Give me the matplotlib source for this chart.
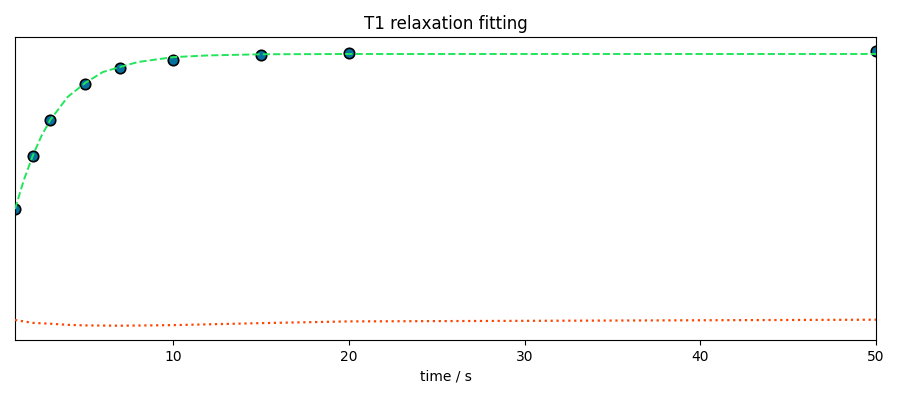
import matplotlib
matplotlib.use("Agg")
import matplotlib.pyplot as plt

t_meas = [1, 2, 3, 5, 7, 10, 15, 20, 50]
s_meas = [0.458, 0.643, 0.769, 0.895, 0.951, 0.979, 0.997, 1.003, 1.010]

t_fit = [1, 1.5, 2, 2.5, 3, 4, 5, 6, 7, 8, 10, 12, 15, 20, 30, 40, 50]
s_fit = [0.458, 0.559, 0.643, 0.713, 0.769, 0.850, 0.899, 0.937, 0.955,
         0.972, 0.989, 0.995, 0.999, 1.000, 1.000, 1.000, 1.000]

# residuals (shown offset near the bottom)
t_res = [1, 2, 3, 4, 5, 7, 10, 15, 20, 30, 40, 50]
s_res = [0.070, 0.060, 0.057, 0.053, 0.051, 0.050, 0.052, 0.059, 0.065,
         0.067, 0.069, 0.071]

fig = plt.figure(figsize=(9, 4), dpi=100)
ax = fig.add_axes([0.0167, 0.15, 0.9566, 0.7575])

ax.plot(t_meas, s_meas, "o", markersize=7.5, markerfacecolor="#06709e",
        markeredgecolor="black", markeredgewidth=1.2, zorder=2)
ax.plot(t_fit, s_fit, "--", color="#22e55a", linewidth=1.4, zorder=3)
ax.plot(t_res, s_res, ":", color="#ff4500", linewidth=1.6, zorder=3)

ax.set_xlim(1, 50)
ax.set_ylim(0.0, 1.0594)
ax.set_yticks([])
ax.set_xticks([10, 20, 30, 40, 50])
ax.set_xlabel("time / s")
ax.set_title("T1 relaxation fitting")

fig.savefig("out.png", dpi=100)
